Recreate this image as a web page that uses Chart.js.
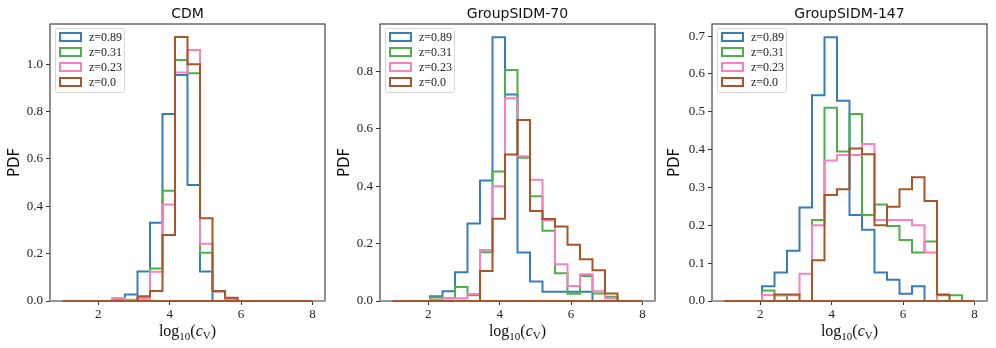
<!DOCTYPE html>
<html lang="en">
<head>
<meta charset="UTF-8">
<title>c_V distributions</title>
<script src="https://cdn.jsdelivr.net/npm/chart.js"></script>
<style>
  html, body { margin: 0; padding: 0; background: #fff; }
  .panel { position: absolute; top: 0; height: 348px; }
</style>
</head>
<body>
<div class="panel" style="left:0px;width:332px"><canvas id="cdm"></canvas></div>
<div class="panel" style="left:330px;width:332px"><canvas id="sidm70"></canvas></div>
<div class="panel" style="left:660px;width:336px"><canvas id="sidm147"></canvas></div>
<script>
// histogram bin edges, log10(c_V) from 1 to 8, 20 bins
const binEdges = [1.0, 1.35, 1.7, 2.05, 2.4, 2.75, 3.1, 3.45, 3.8, 4.15, 4.5,
                  4.85, 5.2, 5.55, 5.9, 6.25, 6.6, 6.95, 7.3, 7.65, 8.0];
const zLabels = ['z=0.89', 'z=0.31', 'z=0.23', 'z=0.0'];
const xTicks = [2, 4, 6, 8];

// CDM
const cdm_z089 = [0, 0, 0, 0, 0.01, 0.027, 0.125, 0.33, 0.79, 0.955, 0.49, 0.125, 0, 0, 0, 0, 0, 0, 0, 0];
const cdm_z031 = [0, 0, 0, 0, 0.01, 0.005, 0.012, 0.137, 0.466, 1.018, 0.962, 0.204, 0.04, 0.01, 0, 0, 0, 0, 0, 0];
const cdm_z023 = [0, 0, 0, 0, 0.012, 0.004, 0.01, 0.124, 0.408, 0.965, 1.06, 0.242, 0.04, 0.01, 0, 0, 0, 0, 0, 0];
const cdm_z000 = [0, 0, 0, 0, 0, 0, 0.02, 0.042, 0.279, 1.115, 1.0, 0.35, 0.042, 0.014, 0, 0, 0, 0, 0, 0];

// GroupSIDM-70
const s70_z089 = [0, 0, 0, 0.017, 0.034, 0.10, 0.27, 0.42, 0.92, 0.72, 0.169, 0.068, 0.032, 0.032, 0.032, 0.032, 0, 0, 0, 0];
const s70_z031 = [0, 0, 0, 0.012, 0.01, 0.049, 0.02, 0.17, 0.452, 0.806, 0.50, 0.365, 0.245, 0.097, 0.025, 0.087, 0.026, 0.015, 0, 0];
const s70_z023 = [0, 0, 0, 0.004, 0.01, 0.01, 0.024, 0.178, 0.40, 0.707, 0.505, 0.423, 0.282, 0.128, 0.052, 0.093, 0.034, 0.01, 0, 0];
const s70_z000 = [0, 0, 0, 0, 0, 0, 0, 0.105, 0.287, 0.511, 0.631, 0.314, 0.286, 0.26, 0.196, 0.146, 0.107, 0.026, 0, 0];

// GroupSIDM-147
const s147_z089 = [0, 0, 0, 0.039, 0.075, 0.133, 0.247, 0.544, 0.697, 0.529, 0.227, 0.188, 0.075, 0.056, 0.019, 0.039, 0, 0, 0, 0];
const s147_z031 = [0, 0, 0, 0.028, 0.015, 0, 0, 0.214, 0.511, 0.395, 0.494, 0.227, 0.255, 0.198, 0.161, 0.128, 0.157, 0.015, 0.015, 0];
const s147_z023 = [0, 0, 0, 0.016, 0.015, 0.015, 0.072, 0.2, 0.371, 0.386, 0.386, 0.415, 0.214, 0.214, 0.214, 0.2, 0.128, 0, 0, 0];
const s147_z000 = [0, 0, 0, 0, 0.017, 0.017, 0, 0.108, 0.28, 0.295, 0.403, 0.388, 0.20, 0.249, 0.295, 0.327, 0.264, 0.017, 0, 0];

const colors = ['#377eb8', '#4daf4a', '#f781bf', '#a65628'];
const serif = '"Liberation Serif", "DejaVu Serif", serif';
const sans = '"DejaVu Sans", sans-serif';

// step outline: (x0,0) -> up to first bin, across every bin, down at the last edge
function stepPoints(vals) {
  const pts = [{ x: binEdges[0], y: 0 }];
  vals.forEach((v, i) => pts.push({ x: binEdges[i], y: v }));
  pts.push({ x: binEdges[binEdges.length - 1], y: vals[vals.length - 1] });
  pts.push({ x: binEdges[binEdges.length - 1], y: 0 });
  return pts;
}

const decor = {
  id: 'decor',
  afterDatasetsDraw(chart, args, opts) {
    const ctx = chart.ctx;
    const a = chart.chartArea;
    ctx.save();
    // frame
    ctx.lineWidth = 1.2;
    ctx.strokeStyle = '#444';
    ctx.strokeRect(a.left, a.top, a.right - a.left, a.bottom - a.top);
    ctx.strokeStyle = '#999';
    ctx.lineWidth = 2;
    ctx.beginPath();
    ctx.moveTo(a.left, a.bottom);
    ctx.lineTo(a.right, a.bottom);
    ctx.stroke();
    // redraw the zero line of the last series on top of the spine
    const xs = chart.scales.x;
    ctx.strokeStyle = colors[3];
    ctx.lineWidth = 2;
    ctx.beginPath();
    ctx.moveTo(xs.getPixelForValue(binEdges[0]), a.bottom);
    ctx.lineTo(xs.getPixelForValue(binEdges[binEdges.length - 1]), a.bottom);
    ctx.stroke();

    // legend box
    const bx = a.left + 5, by = a.top + 4, bw = 69, bh = 64;
    ctx.fillStyle = 'rgba(255,255,255,0.85)';
    ctx.strokeStyle = '#d6d6d6';
    ctx.lineWidth = 1;
    ctx.beginPath();
    ctx.roundRect(bx + 0.5, by + 0.5, bw, bh, 2);
    ctx.fill();
    ctx.stroke();
    ctx.font = '12px ' + serif;
    ctx.textBaseline = 'middle';
    ctx.textAlign = 'left';
    zLabels.forEach((lab, i) => {
      const cy = by + 9 + 15 * i;
      ctx.strokeStyle = colors[i];
      ctx.lineWidth = 2;
      ctx.strokeRect(bx + 5, cy - 4, 21, 8);
      ctx.fillStyle = '#222';
      ctx.fillText(lab, bx + 34, cy + 1);
    });

    // title
    ctx.fillStyle = '#111';
    ctx.font = '14px ' + sans;
    ctx.textAlign = 'center';
    ctx.textBaseline = 'alphabetic';
    ctx.fillText(opts.title, (a.left + a.right) / 2, 18);

    // y label
    ctx.save();
    ctx.translate(15, (a.top + a.bottom) / 2);
    ctx.rotate(-Math.PI / 2);
    ctx.font = '15px ' + sans;
    ctx.textAlign = 'center';
    ctx.textBaseline = 'middle';
    ctx.fillText('PDF', 0, 0);
    ctx.restore();

    // x label: log10(c_V)
    const parts = [
      { t: 'log', f: '16px ' + serif, dy: 0 },
      { t: '10', f: '11px ' + serif, dy: 4 },
      { t: '(', f: '16px ' + serif, dy: 0 },
      { t: 'c', f: 'italic 16px ' + serif, dy: 0 },
      { t: 'V', f: '11px ' + serif, dy: 3 },
      { t: ')', f: '16px ' + serif, dy: 0 }
    ];
    ctx.textAlign = 'left';
    let total = 0;
    parts.forEach(p => { ctx.font = p.f; p.w = ctx.measureText(p.t).width; total += p.w; });
    let x = (a.left + a.right) / 2 - total / 2;
    const base = 336;
    parts.forEach(p => {
      ctx.font = p.f;
      ctx.fillText(p.t, x, base + p.dy);
      x += p.w;
    });
    ctx.restore();
  }
};

function makeChart(id, title, series, yMax, yStep, yWidth, rightPad) {
  new Chart(document.getElementById(id), {
    type: 'line',
    data: {
      datasets: series.map((vals, i) => ({
        label: zLabels[i],
        data: stepPoints(vals),
        stepped: 'before',
        borderColor: colors[i],
        borderWidth: 2,
        pointRadius: 0,
        fill: false,
        order: 3 - i
      }))
    },
    options: {
      responsive: true,
      maintainAspectRatio: false,
      animation: false,
      layout: { padding: { top: 24, right: rightPad, left: 0, bottom: 0 } },
      plugins: {
        legend: { display: false },
        tooltip: { enabled: false },
        decor: { title: title }
      },
      scales: {
        x: {
          type: 'linear',
          min: 0.65,
          max: 8.35,
          afterBuildTicks: s => { s.ticks = xTicks.map(v => ({ value: v })); },
          afterFit: s => { s.height = 47; },
          grid: { display: true, drawOnChartArea: false, drawTicks: true, tickLength: 4, color: '#333' },
          border: { display: false },
          ticks: { font: { family: serif, size: 13 }, color: '#222', padding: 2, maxRotation: 0 }
        },
        y: {
          min: 0,
          max: yMax,
          afterFit: s => { s.width = yWidth; },
          grid: { display: true, drawOnChartArea: false, drawTicks: true, tickLength: 4, color: '#333' },
          border: { display: false },
          ticks: {
            stepSize: yStep,
            includeBounds: false,
            font: { family: serif, size: 13 },
            color: '#222',
            padding: 3,
            callback: v => v.toFixed(1)
          }
        }
      }
    },
    plugins: [decor]
  });
}

makeChart('cdm', 'CDM', [cdm_z089, cdm_z031, cdm_z023, cdm_z000], 1.17, 0.2, 50, 7);
makeChart('sidm70', 'GroupSIDM-70', [s70_z089, s70_z031, s70_z023, s70_z000], 0.966, 0.2, 50, 7);
makeChart('sidm147', 'GroupSIDM-147', [s147_z089, s147_z031, s147_z023, s147_z000], 0.732, 0.1, 52, 9);
</script>
</body>
</html>
